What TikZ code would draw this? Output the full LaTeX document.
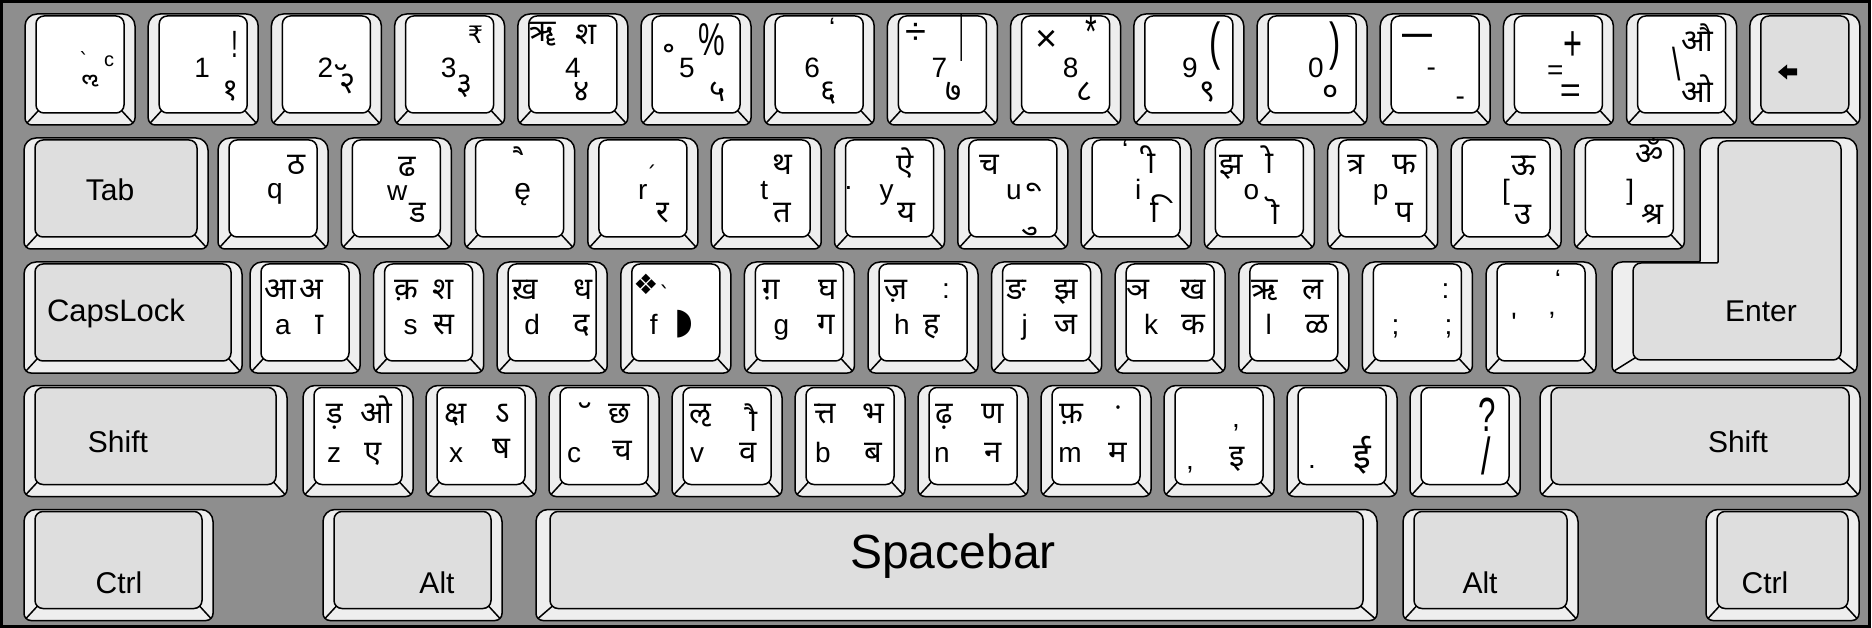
\documentclass[tikz,border=0pt]{standalone}
\usepackage{fontspec}
\setmainfont{Liberation Sans}
\newfontfamily\dev[Script=Devanagari]{Noto Sans}
\newfontfamily\dvs{DejaVu Sans}
\newfontfamily\nar[FakeStretch=0.65]{Liberation Sans}
\catcode"A0=12
\def\nb{^^^^00a0}
\definecolor{bg}{RGB}{142,142,142}
\definecolor{bev}{RGB}{238,238,238}
\definecolor{spec}{RGB}{222,222,222}
\newcounter{nc}
\tikzset{
 kl/.style={draw=black,line width=1.5pt,line join=round},
 autoname/.code={\stepcounter{nc}\edef\tmpnm{lb\arabic{nc}}\pgfkeysalso{/tikz/name/.expanded=\tmpnm}},
 gl/.style={inner sep=0pt,outer sep=0pt,autoname},
 lat/.style={gl,anchor=base,font=\fontsize{28}{30}\selectfont},
 latc/.style={gl,anchor=center,font=\fontsize{28}{30}\selectfont},
 dv/.style={gl,anchor=base,font=\dev\fontsize{31}{33}\selectfont},
 dvc/.style={gl,anchor=center,font=\dev\fontsize{31}{33}\selectfont},
 sym/.style={gl,anchor=center,font=\nar\fontsize{46}{48}\selectfont},
 dj/.style={gl,anchor=center,font=\dvs\fontsize{22}{24}\selectfont},
 lbl/.style={gl,anchor=base,font=\fontsize{30}{32}\selectfont},
}
\newcommand\keycap[6][11]{%
 \pgfmathsetmacro\kxa{#2}\pgfmathsetmacro\kya{#3}%
 \pgfmathsetmacro\kxb{#2+#4}\pgfmathsetmacro\kyb{#3+#5}%
 \pgfmathsetmacro\kym{#3+#5/2}%
 \draw[kl,fill=bev] (\kxa,\kym) [rounded corners=12pt] -- (\kxa,\kya) -- (\kxb,\kya) -- (\kxb,\kym) [rounded corners=7pt] -- (\kxb,\kyb) -- (\kxa,\kyb) -- cycle;
 \draw[kl,fill=#6,rounded corners=8pt] ({\kxa+#1},{\kya+2}) rectangle ({\kxb-#1},{\kyb-12});
 \draw[kl] ({\kxa+#1+2.34},{\kyb-14.34}) -- ({\kxa+2.05},{\kyb-2.05});
 \draw[kl] ({\kxb-#1-2.34},{\kyb-14.34}) -- ({\kxb-2.05},{\kyb-2.05});
}
\newcommand\K[3]{\keycap{#1}{#2}{110}{111}{white}\begin{scope}[shift={(#1,#2)}]#3\end{scope}}
\begin{document}
\begin{tikzpicture}[x=1pt,y=-1pt]
\useasboundingbox (0,0) rectangle (1872,628);
\draw[line width=3pt,fill=bg] (1.5,1.5) rectangle (1869.5,626.5);
% ---------- row 1
\K{25}{14}{\node[dj,font=\dvs\fontsize{20}{22}\selectfont] at (59,46) {ˋ};
 \node[dvc] at (66,67) {\nb ॢ};
 \node[latc,font=\fontsize{20}{22}\selectfont] at (84,47) {c};}
\K{148.2}{14}{\node[lat] at (54,64){1}; \node[sym,font=\nar\fontsize{38}{40}\selectfont] at (87,30){!}; \node[dv] at (82,87){१};}
\K{271.4}{14}{\node[lat] at (54,64){2}; \node[dvc] at (70,64){\nb ॅ}; \node[dv] at (76,80){२};}
\K{394.6}{14}{\node[lat] at (54,64){3}; \node[dj,font=\dvs\fontsize{24}{26}\selectfont] at (81,21){₹}; \node[dv] at (70,81){३};}
\K{517.8}{14}{\node[dv] at (25,28){ॠ}; \node[dv] at (68,31){श}; \node[lat] at (55,64){4}; \node[dv] at (64,88){४};}
\K{641}{14}{\node[dvc] at (28,39){॰}; \node[lat] at (46,64){5}; \node[sym] at (71,26){\%}; \node[dv] at (77,88){५};}
\K{764.2}{14}{\node[lat] at (48,64){6}; \node[latc] at (68,14){‘}; \node[dv] at (64,88){६};}
\K{887.4}{14}{\node[latc,font=\fontsize{38}{40}\selectfont] at (29,20){÷}; \node[lat] at (52,64){7}; \node[dvc,font=\dev\fontsize{40}{42}\selectfont] at (74,24){\scalebox{0.45}[1.9]{।}}; \node[dv] at (66,88){७};}
\K{1010.6}{14}{\node[latc,font=\fontsize{38}{40}\selectfont] at (36,27){×}; \node[lat] at (60,64){8}; \node[sym] at (81,18){*}; \node[dv] at (74,88){८};}
\K{1133.8}{14}{\node[lat] at (56,64){9}; \node[sym,font=\nar\fontsize{52}{54}\selectfont] at (81,32){(}; \node[dv] at (74,88){९};}
\K{1257}{14}{\node[lat] at (59,64){0}; \node[sym,font=\nar\fontsize{52}{54}\selectfont] at (78,32){)}; \node[dv] at (74,88){०};}
\K{1380.2}{14}{\node[sym] at (37,27){—}; \node[latc] at (51,58){-}; \node[latc] at (80,87){-};}
\K{1503.4}{14}{\node[latc] at (52,59){=}; \node[sym,font=\nar\fontsize{50}{52}\selectfont] at (70,32){+}; \node[latc,font=\fontsize{36}{38}\selectfont] at (67,80){=};}
\K{1626.6}{14}{\node[sym] at (50,50){\textbackslash}; \node[dv] at (71,38){औ}; \node[dv] at (71,89){ओ};}
\keycap{1749.8}{14}{110}{111}{spec}
\fill (1778,72) -- (1787,64.5) -- (1787,68.5) -- (1797,68.5) -- (1797,75.5) -- (1787,75.5) -- (1787,79.5) -- cycle;
% ---------- row 2
\keycap{24}{138}{184}{111}{spec}
\node[lbl] at (110,201){Tab};
\K{218}{138}{\node[lat] at (57,61){q}; \node[dv] at (79,37){ठ};}
\K{341.3}{138}{\node[dv] at (66,39){ढ}; \node[lat] at (56,63){w}; \node[dv] at (76,85){ड};}
\K{464.6}{138}{\node[dvc] at (58,23){\nb ै}; \node[lat,font=\fontsize{30}{32}\selectfont] at (58,62){ę};}
\K{587.9}{138}{\node[dj] at (63,36){ˊ}; \node[lat] at (55,62){r}; \node[dv] at (75,85){र};}
\K{711.2}{138}{\node[dv] at (71,37){थ}; \node[lat] at (53,62){t}; \node[dv] at (71,85){त};}
\K{834.5}{138}{\node[latc] at (14,50){.}; \node[dv] at (71,38){ऐ}; \node[lat] at (52,62){y}; \node[dv] at (72,85){य};}
\K{957.8}{138}{\node[dv] at (32,37){च}; \node[lat] at (56,62){u}; \node[dvc] at (76,50){\nb ू}; \node[dvc] at (75,93){\nb ु};}
\K{1081.1}{138}{\node[latc] at (44,12){‘}; \node[dvc] at (66,22){\nb ी}; \node[lat] at (57,62){i}; \node[dvc] at (77,71){\nb ि};}
\K{1204.4}{138}{\node[dv] at (27,37){झ}; \node[dvc] at (61,22){\nb ो}; \node[lat] at (47,62){o}; \node[dvc] at (67,73){\nb ॊ};}
\K{1327.7}{138}{\node[dv] at (28,37){त्र}; \node[dv] at (77,37){फ}; \node[lat] at (53,62){p}; \node[dv] at (77,85){प};}
\K{1451}{138}{\node[dv] at (73,38){ऊ}; \node[lat] at (55,62){[}; \node[dv] at (72,87){उ};}
\K{1574.3}{138}{\node[dv] at (75,27){ॐ}; \node[lat] at (56,62){]}; \node[dv] at (78,87){श्र};}
% Enter
\draw[kl,fill=bev] (1780,138) [rounded corners=12pt] -- (1857,138) -- (1857,250) [rounded corners=7pt] -- (1857,373) -- (1700,373) -- (1612,373) -- (1612,320) [rounded corners=10pt] -- (1612,262) -- (1650,262) [rounded corners=1pt] -- (1700,262) -- (1700,200) [rounded corners=12pt] -- (1700,138) -- cycle;
\draw[kl,fill=spec] (1780,141) [rounded corners=8pt] -- (1841,141) -- (1841,360) -- (1633,360) -- (1633,263) -- (1680,263) [rounded corners=1pt] -- (1718,263) -- (1718,200) [rounded corners=8pt] -- (1718,141) -- cycle;
\draw[kl] (1635.3,357.7) -- (1614,371);
\draw[kl] (1838.7,357.7) -- (1855,371);
\node[lbl] at (1761,322){Enter};
% ---------- row 3
\keycap{24}{262}{218}{111}{spec}
\node[lbl,font=\fontsize{31}{33}\selectfont] at (116,322){CapsLock};
\K{250}{262}{\node[dv] at (30,38){आ}; \node[dv] at (61,38){अ}; \node[lat] at (33,73){a}; \node[dv] at (65,73){\nb ा};}
\K{373.6}{262}{\node[dv] at (33,38){क़}; \node[dv] at (69,38){श}; \node[lat] at (37,73){s}; \node[dv] at (70,73){स};}
\K{497.2}{262}{\node[dv] at (28,38){ख़}; \node[dv] at (86,38){ध}; \node[lat] at (35,73){d}; \node[dv] at (85,73){द};}
\K{620.8}{262}{\node[dj,font=\dvs\fontsize{28}{30}\selectfont] at (25,22){❖}; \node[dj] at (44,32){ˋ}; \node[lat] at (33,73){f}; \node[dj,font=\dvs\fontsize{36}{38}\selectfont] at (63,62){◗};}
\K{744.4}{262}{\node[dv] at (27,38){ग़}; \node[dv] at (83,38){घ}; \node[lat] at (37,73){g}; \node[dv] at (82,73){ग};}
\K{868}{262}{\node[dv] at (28,38){ज़}; \node[latc] at (78,29){:}; \node[lat] at (34,73){h}; \node[dv] at (64,73){ह};}
\K{991.6}{262}{\node[dv] at (25,38){ङ}; \node[dv] at (75,38){झ}; \node[lat] at (33,73){j}; \node[dv] at (74,73){ज};}
\K{1115.2}{262}{\node[dv] at (23,38){ञ}; \node[dv] at (78,38){ख}; \node[lat] at (36,73){k}; \node[dv] at (78,73){क};}
\K{1238.8}{262}{\node[dv] at (26,38){ऋ}; \node[dv] at (74,38){ल}; \node[lat] at (30,73){l}; \node[dv] at (78,73){ळ};}
\K{1362.4}{262}{\node[latc] at (83,29){:}; \node[lat] at (33,73){;}; \node[lat] at (86,73){;};}
\K{1486}{262}{\node[latc] at (72,18){‘}; \node[latc] at (28,61){\textquotesingle}; \node[latc] at (66,60){’};}
% ---------- row 4
\keycap{24}{385.5}{263}{111}{spec}
\node[lbl] at (118,452){Shift};
\K{303}{385.5}{\node[dv] at (32,38){ड़}; \node[dv] at (73,38){ओ}; \node[lat] at (31,77){z}; \node[dv] at (70,77){ए};}
\K{426}{385.5}{\node[dv] at (30,38){क्ष}; \node[dv] at (77,38){ऽ}; \node[lat] at (30,77){x}; \node[dv] at (75,73){ष};}
\K{549}{385.5}{\node[dvc] at (36,31){\nb ॅ}; \node[dv] at (70,38){छ}; \node[lat] at (25,77){c}; \node[dv] at (73,75){च};}
\K{672}{385.5}{\node[dv] at (28,38){ऌ}; \node[dvc] at (77,32){\nb ौ}; \node[lat] at (25,77){v}; \node[dv] at (76,77){व};}
\K{795}{385.5}{\node[dv] at (30,38){त्त}; \node[dv] at (78,38){भ}; \node[lat] at (28,77){b}; \node[dv] at (78,77){ब};}
\K{918}{385.5}{\node[dv] at (26,38){ढ़}; \node[dv] at (75,38){ण}; \node[lat] at (24,77){n}; \node[dv] at (75,77){न};}
\K{1041}{385.5}{\node[dv] at (30,38){फ़}; \node[dvc] at (77,33){\nb ं}; \node[lat] at (29,77){m}; \node[dv] at (77,77){म};}
\K{1164}{385.5}{\node[latc] at (72,42){,}; \node[latc] at (26,84){,}; \node[dv] at (73,81){इ};}
\K{1287}{385.5}{\node[latc] at (25,82){.}; \node[dv,font=\dev\fontsize{36}{38}\selectfont] at (75,83){ई};}
\K{1410}{385.5}{\node[sym,font=\nar\fontsize{48}{50}\selectfont] at (77,29){?}; \node[sym,font=\nar\fontsize{52}{54}\selectfont] at (76,70){/};}
\keycap{1540}{385.5}{320}{111}{spec}
\node[lbl] at (1738,452){Shift};
% ---------- row 5
\keycap{24}{509.5}{189}{111}{spec}
\node[lbl] at (119,593){Ctrl};
\keycap{323}{509.5}{179}{111}{spec}
\node[lbl] at (437,593){Alt};
\keycap[14]{536}{509.5}{841}{111}{spec}
\node[lbl,font=\fontsize{48}{50}\selectfont] at (953,568){Spacebar};
\keycap{1403}{509.5}{175}{111}{spec}
\node[lbl] at (1480,593){Alt};
\keycap{1706}{509.5}{153}{111}{spec}
\node[lbl] at (1765,593){Ctrl};
\end{tikzpicture}
\end{document}
